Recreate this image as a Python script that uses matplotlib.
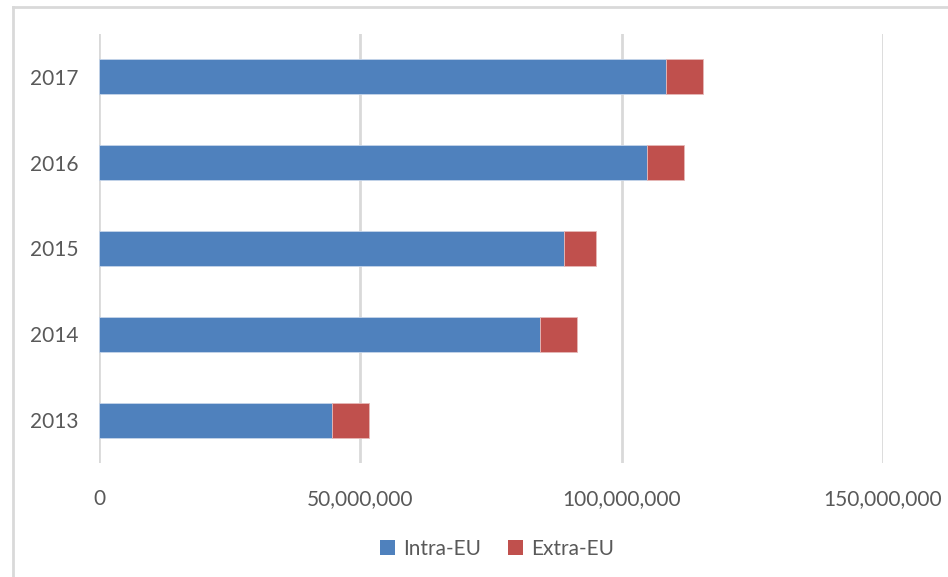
import matplotlib.pyplot as plt
from matplotlib.ticker import FuncFormatter
from matplotlib.patches import Patch
from matplotlib.lines import Line2D

years = ["2013", "2014", "2015", "2016", "2017"]
intra_eu = [44.6e6, 84.3e6, 88.9e6, 104.8e6, 108.4e6]
extra_eu = [7.1e6, 7.1e6, 6.1e6, 7.1e6, 7.1e6]

blue = "#4f81bd"
red = "#c0504d"
grid_col = "#d9d9d9"
text_col = "#595959"

plt.rcParams["font.family"] = ["Lato", "DejaVu Sans"]

fig = plt.figure(figsize=(9.48, 5.77), dpi=100)
ax = fig.add_axes([99 / 948, 1 - 463 / 577, 784 / 948, 429 / 577])

y = range(len(years))
ax.barh(y, intra_eu, height=0.41, color=blue, edgecolor="#c6d5ea", linewidth=0.6, zorder=3)
ax.barh(y, extra_eu, left=intra_eu, height=0.41, color=red, edgecolor="#e6b8b7", linewidth=0.6, zorder=3)

ax.set_xlim(0, 150e6)
ax.set_ylim(-0.5, len(years) - 0.5)
ax.set_xticks([0, 50e6, 100e6, 150e6])
ax.xaxis.set_major_formatter(FuncFormatter(lambda v, p: f"{v:,.0f}"))
ax.set_yticks(list(y))
ax.set_yticklabels(years)
ax.grid(axis="x", color=grid_col, linewidth=2, zorder=0)
ax.set_axisbelow(True)
for s in ax.spines.values():
    s.set_visible(False)
ax.tick_params(axis="both", length=0, labelsize=15, labelcolor=text_col)
ax.tick_params(axis="x", pad=19)
ax.tick_params(axis="y", pad=15)

# chart border, top and left edges only
fig.add_artist(Line2D([13 / 948, 13 / 948], [0, 1 - 7 / 577], transform=fig.transFigure,
                      color=grid_col, linewidth=2))
fig.add_artist(Line2D([13 / 948, 1], [1 - 7 / 577, 1 - 7 / 577], transform=fig.transFigure,
                      color=grid_col, linewidth=2))

handles = [Patch(facecolor=blue, label="Intra-EU"), Patch(facecolor=red, label="Extra-EU")]
fig.legend(handles=handles, loc="center", bbox_to_anchor=(497 / 948, 1 - 549 / 577), ncol=2,
           frameon=False, fontsize=15, labelcolor=text_col, handlelength=0.7, handleheight=0.7,
           handletextpad=0.4, columnspacing=1.3)

fig.savefig("out.png", dpi=100)
